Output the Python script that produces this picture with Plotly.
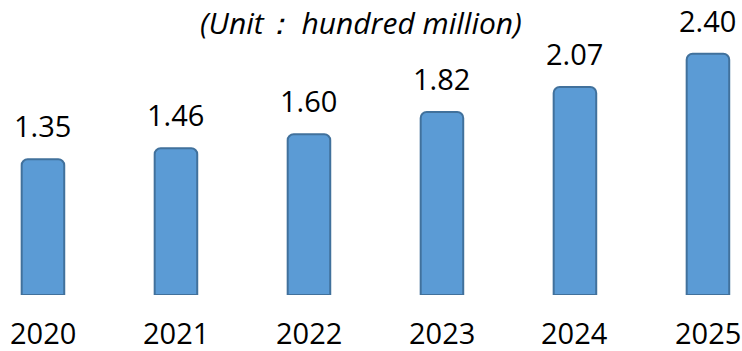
import plotly.graph_objects as go

years = ["2020", "2021", "2022", "2023", "2024", "2025"]
values = [1.35, 1.46, 1.60, 1.82, 2.07, 2.40]
unit_label = "(Unit： hundred million)"

FONT = "Open Sans"

fig = go.Figure()
fig.add_trace(go.Bar(
    x=list(range(len(years))),
    y=values,
    width=0.32,
    marker=dict(color="#5B9BD5", line=dict(color="#41719C", width=2), cornerradius=6),
    hoverinfo="skip",
))

# value labels above each bar
for i, v in enumerate(values):
    fig.add_annotation(
        x=i, y=v, text=f"{v:.2f}", showarrow=False,
        yanchor="bottom", yshift=12,
        font=dict(family=FONT, size=29, color="#000000"),
    )

# year labels under the bars (kept as annotations so the last one is not dropped at the edge)
for i, yr in enumerate(years):
    fig.add_annotation(
        x=i, y=0, text=yr, showarrow=False,
        yanchor="top", yshift=-17, borderpad=0,
        font=dict(family=FONT, size=29, color="#000000"),
    )

fig.add_annotation(
    x=0.486, y=1.0, xref="paper", yref="paper",
    text=f"<i>{unit_label}</i>", showarrow=False,
    yanchor="top", yshift=0,
    font=dict(family=FONT, size=30, color="#000000"),
)

fig.update_layout(
    width=742, height=351,
    margin=dict(l=0, r=0, t=0, b=56, autoexpand=False),
    paper_bgcolor="white", plot_bgcolor="white",
    showlegend=False,
    xaxis=dict(range=[-0.323, 5.256], visible=False),
    yaxis=dict(range=[0, 2.935], visible=False),
)

fig.write_html("out.html")
